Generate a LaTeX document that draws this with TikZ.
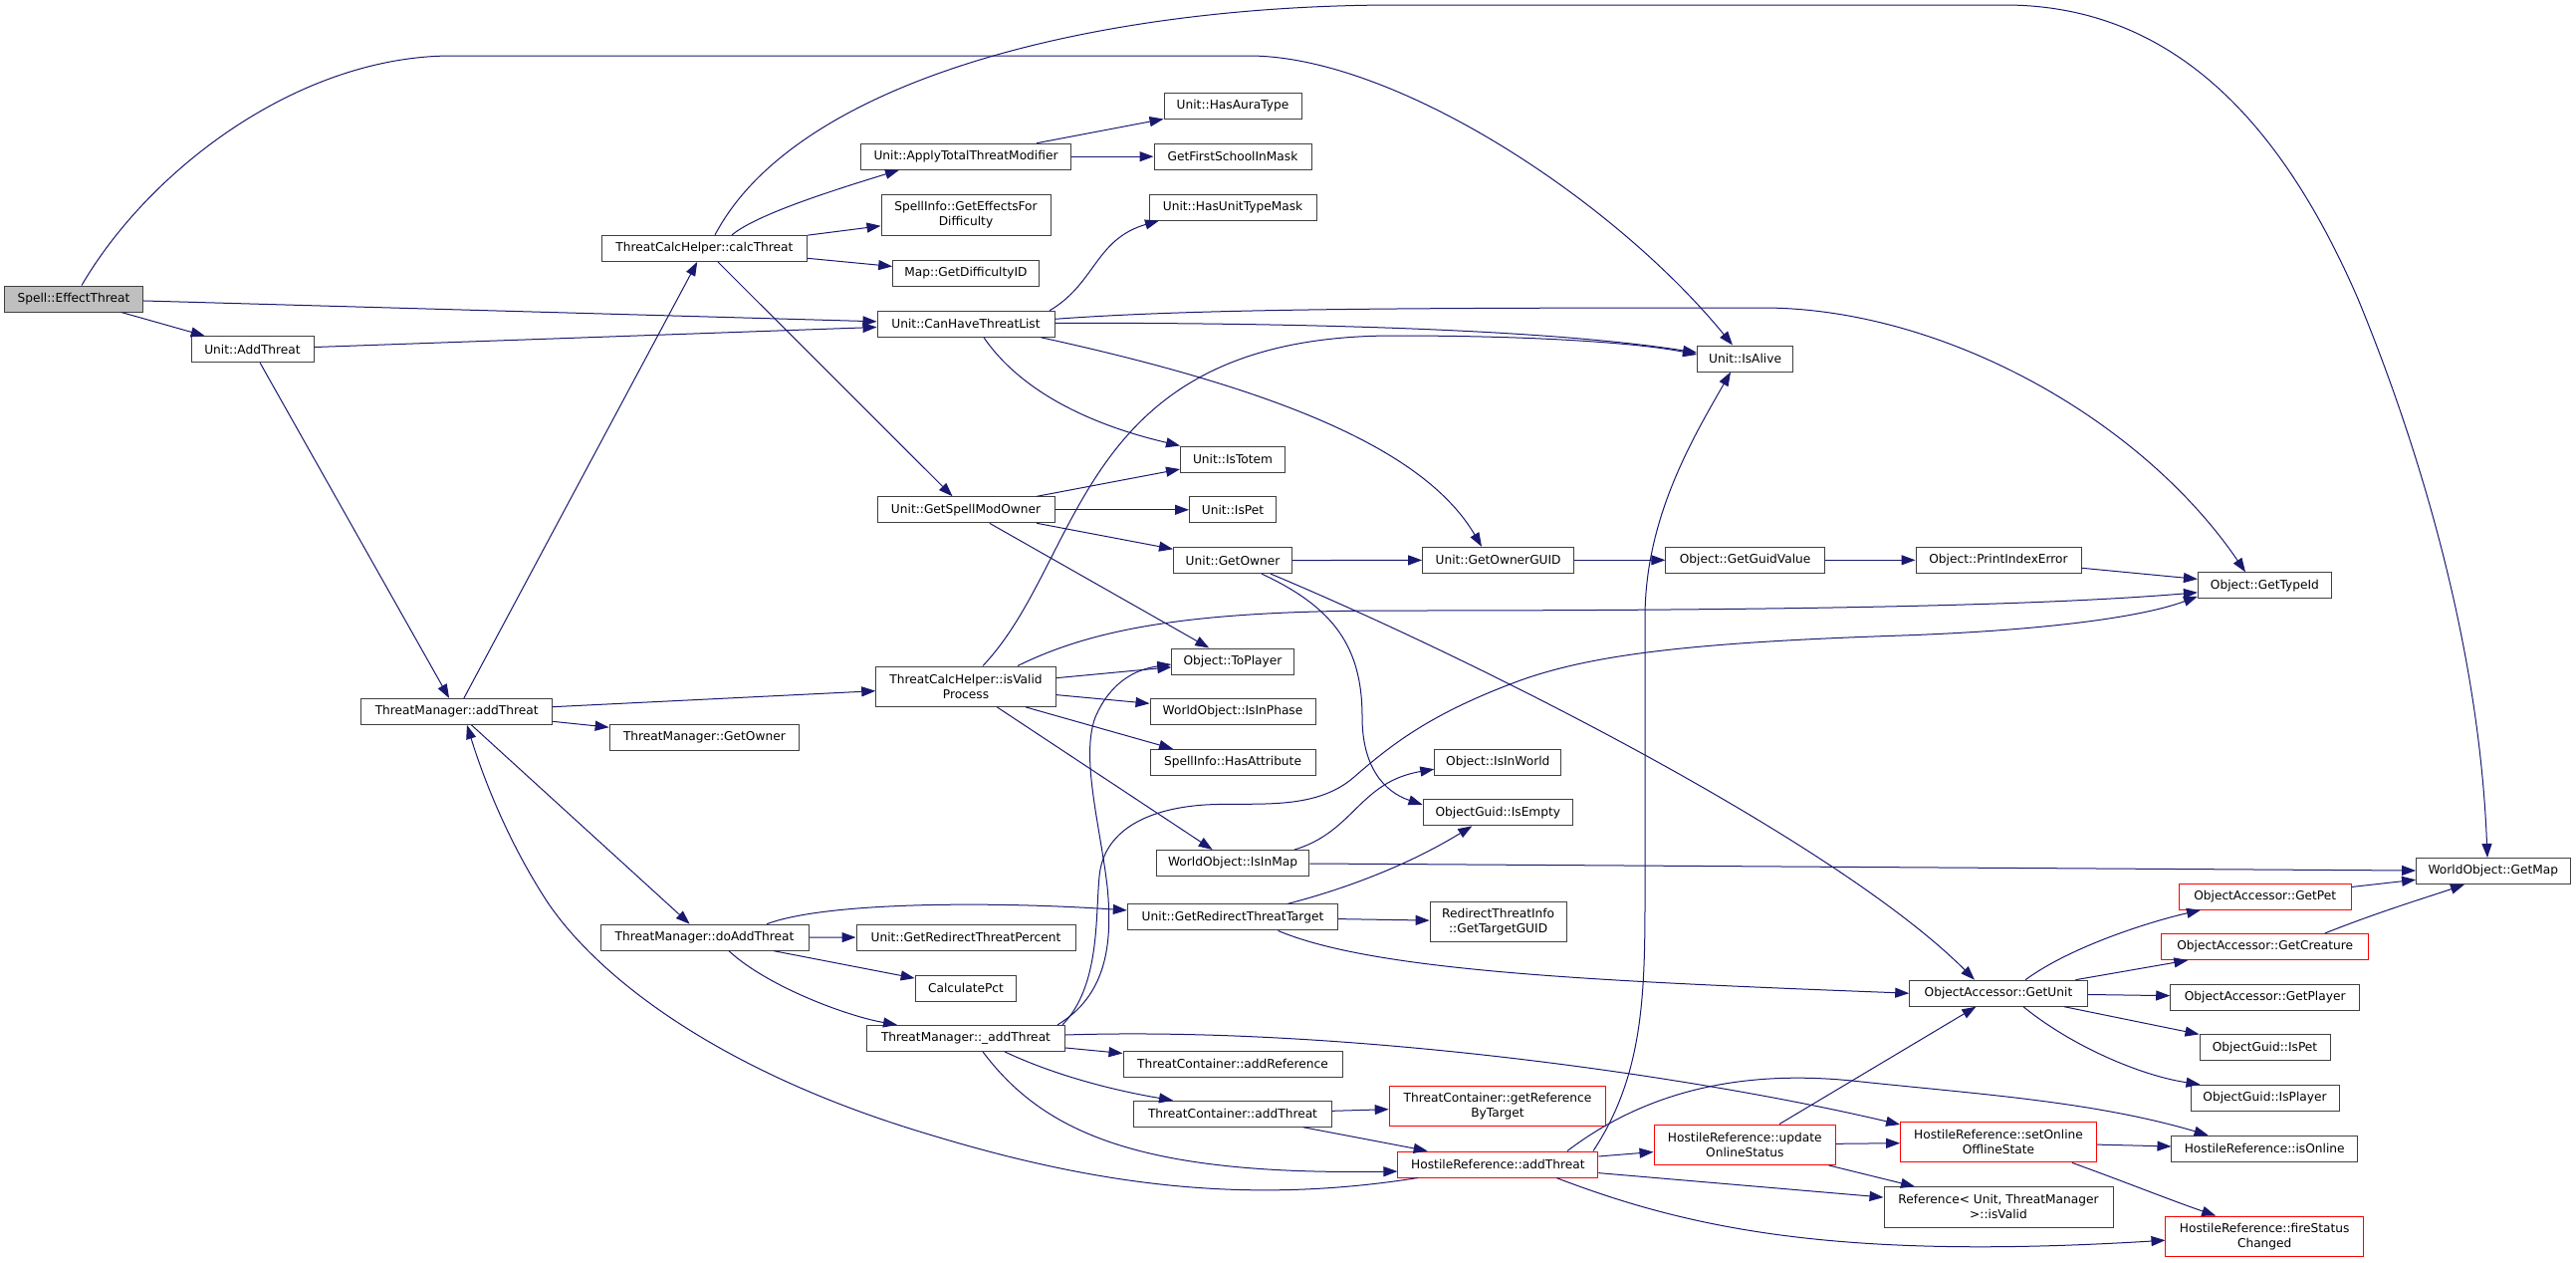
\documentclass[tikz,border=0pt]{standalone}
\usepackage{fontspec}
\setmainfont{DejaVu Sans}
\usetikzlibrary{arrows.meta}
\definecolor{edgeblue}{HTML}{191970}
\definecolor{nodeborder}{HTML}{404040}
\definecolor{rootfill}{HTML}{BFBFBF}
\begin{document}
\begin{tikzpicture}[x=1pt,y=-1pt,
  fn/.style={draw=nodeborder, line width=1pt, fill=white, inner sep=0pt, align=center,
             font=\fontsize{12.2}{15}\selectfont, minimum height=26pt},
  fnn/.style={fn, minimum height=40.4pt},
  trunc/.style={draw=red},
  e/.style={draw=edgeblue, line width=1pt, -{Triangle[length=14pt,width=10pt]}}]
\useasboundingbox (0,0) rectangle (2587,1267);
% nodes
\node[fn, fill=rootfill, minimum width=139pt] (effect) at (74,300) {Spell::EffectThreat};
\node[fn, minimum width=123pt] (uaddthreat) at (253.5,350.7) {Unit::AddThreat};
\node[fn, minimum width=206.6pt] (calcthreat) at (707.4,249.4) {ThreatCalcHelper::calcThreat};
\node[fn, minimum width=211pt] (applytotal) at (970,157.2) {Unit::ApplyTotalThreatModifier};
\node[fn, minimum width=138pt] (hasaura) at (1238,106.3) {Unit::HasAuraType};
\node[fn, minimum width=158pt] (firstschool) at (1238,157.2) {GetFirstSchoolInMask};
\node[fnn, minimum width=170pt] (effectsfor) at (970,215.9) {SpellInfo::GetEffectsFor\\Difficulty};
\node[fn, minimum width=168pt] (hasunittype) at (1238,208) {Unit::HasUnitTypeMask};
\node[fn, minimum width=146.6pt] (getdiff) at (970,274.5) {Map::GetDifficultyID};
\node[fn, minimum width=178pt] (canhave) at (970,325.3) {Unit::CanHaveThreatList};
\node[fn, minimum width=96pt] (isalive) at (1752.6,360) {Unit::IsAlive};
\node[fn, minimum width=105pt] (istotem) at (1238,461) {Unit::IsTotem};
\node[fn, minimum width=178pt] (spellmod) at (970,511.8) {Unit::GetSpellModOwner};
\node[fn, minimum width=87pt] (ispet) at (1238,511.8) {Unit::IsPet};
\node[fn, minimum width=119pt] (getowner) at (1238,562.6) {Unit::GetOwner};
\node[fn, minimum width=152pt] (ownerguid) at (1504.6,562.3) {Unit::GetOwnerGUID};
\node[fn, minimum width=159.4pt] (guidvalue) at (1752.6,562.3) {Object::GetGuidValue};
\node[fn, minimum width=166pt] (printindex) at (2007,562.3) {Object::PrintIndexError};
\node[fn, minimum width=134pt] (gettypeid) at (2274.4,587.8) {Object::GetTypeId};
\node[fn, minimum width=191.7pt] (tmaddthreat) at (458.7,714.4) {ThreatManager::addThreat};
\node[fn, minimum width=190.5pt] (tmgetowner) at (707.4,740) {ThreatManager::GetOwner};
\node[fnn, minimum width=180.5pt] (isvalid) at (970,689.2) {ThreatCalcHelper::isValid\\Process};
\node[fn, minimum width=122.4pt] (toplayer) at (1238,664) {Object::ToPlayer};
\node[fn, minimum width=166pt] (isinphase) at (1238,714) {WorldObject::IsInPhase};
\node[fn, minimum width=166pt] (hasattr) at (1238,765.3) {SpellInfo::HasAttribute};
\node[fn, minimum width=127pt] (isinworld) at (1504.3,765.2) {Object::IsInWorld};
\node[fn, minimum width=150.6pt] (isempty) at (1504.3,815.8) {ObjectGuid::IsEmpty};
\node[fn, minimum width=153.7pt] (isinmap) at (1238,866.5) {WorldObject::IsInMap};
\node[fn, minimum width=154.5pt] (getmap) at (2503.8,874.5) {WorldObject::GetMap};
\node[fn, minimum width=211.4pt] (redirtarget) at (1238,920.9) {Unit::GetRedirectThreatTarget};
\node[fnn, minimum width=137pt] (targetguid) at (1504.6,925.2) {RedirectThreatInfo\\::GetTargetGUID};
\node[fn, trunc, minimum width=173.4pt] (getpet) at (2274.7,900.2) {ObjectAccessor::GetPet};
\node[fn, trunc, minimum width=208.2pt] (getcreature) at (2274.7,950.5) {ObjectAccessor::GetCreature};
\node[fn, minimum width=178.6pt] (getunit) at (2007,997.2) {ObjectAccessor::GetUnit};
\node[fn, minimum width=190pt] (getplayer) at (2274.7,1001) {ObjectAccessor::GetPlayer};
\node[fn, minimum width=131pt] (guidispet) at (2274.5,1051.8) {ObjectGuid::IsPet};
\node[fn, minimum width=149pt] (guidisplayer) at (2274.5,1102.2) {ObjectGuid::IsPlayer};
\node[fn, minimum width=209pt] (doadd) at (707.5,941.2) {ThreatManager::doAddThreat};
\node[fn, minimum width=220pt] (redirpct) at (970,941) {Unit::GetRedirectThreatPercent};
\node[fn, minimum width=101.7pt] (calcpct) at (970,992) {CalculatePct};
\node[fn, minimum width=198.2pt] (privadd) at (970,1042.4) {ThreatManager::\_addThreat};
\node[fn, minimum width=220pt] (addref) at (1238,1068) {ThreatContainer::addReference};
\node[fn, minimum width=199pt] (tcaddthreat) at (1238,1118.2) {ThreatContainer::addThreat};
\node[fnn, trunc, minimum width=217.7pt] (getrefby) at (1504,1110.5) {ThreatContainer::getReference\\ByTarget};
\node[fn, trunc, minimum width=201pt] (hraddthreat) at (1504.4,1169) {HostileReference::addThreat};
\node[fnn, trunc, minimum width=182.6pt] (updateonline) at (1752.3,1149.2) {HostileReference::update\\OnlineStatus};
\node[fnn, trunc, minimum width=196.8pt] (setonline) at (2007,1146.7) {HostileReference::setOnline\\OfflineState};
\node[fn, minimum width=186.5pt] (isonline) at (2274.2,1153.2) {HostileReference::isOnline};
\node[fnn, minimum width=230pt] (refisvalid) at (2007,1211.9) {Reference< Unit, ThreatManager\\ >::isValid};
\node[fnn, trunc, minimum width=198.5pt] (firestatus) at (2274.2,1241.2) {HostileReference::fireStatus\\Changed};
% edges
\draw[e] ([xshift=8pt]effect.north) .. controls (150,170) and (300,56) .. (454,56) -- (1254,56) .. controls (1400,56) and (1620,200) .. ([xshift=-12.6pt]isalive.north);
\draw[e] (effect) -- (canhave);
\draw[e] (effect) -- (uaddthreat);
\draw[e] (uaddthreat) -- (canhave);
\draw[e] (uaddthreat) -- (tmaddthreat);
\draw[e] ([xshift=10.6pt]calcthreat.north) .. controls (800,80) and (1100,5) .. (1403,5) -- (2013,5) .. controls (2180,5) and (2290,120) .. (2368,300) .. controls (2430,450) and (2490,650) .. ([xshift=-5.8pt]getmap.north);
\draw[e] ([xshift=27.6pt]calcthreat.north) .. controls (760,215) and (840,190) .. ([xshift=-67pt]applytotal.south);
\draw[e] (calcthreat) -- (effectsfor);
\draw[e] (calcthreat) -- (getdiff);
\draw[e] (calcthreat) -- (spellmod);
\draw[e] (applytotal) -- (hasaura);
\draw[e] (applytotal) -- (firstschool);
\draw[e] ([xshift=84pt]canhave.north) .. controls (1100,285) and (1100,240) .. ([xshift=-74pt]hasunittype.south);
\draw[e] ([yshift=5pt]canhave.east) .. controls (1200,310) and (1400,309) .. (1770,309) .. controls (1950,309) and (2150,420) .. ([xshift=-19.4pt]gettypeid.north);
\draw[e] ([yshift=1pt]canhave.east) .. controls (1300,324) and (1550,330) .. ([yshift=6pt]isalive.west);
\draw[e] ([xshift=18pt]canhave.south) .. controls (1030,400) and (1110,430) .. (istotem.north west);
\draw[e] ([xshift=75.5pt]canhave.south) .. controls (1280,390) and (1430,450) .. ([xshift=-16.6pt]ownerguid.north);
\draw[e] (spellmod) -- (istotem);
\draw[e] (spellmod) -- (ispet);
\draw[e] (spellmod) -- (getowner);
\draw[e] (spellmod) -- (toplayer);
\draw[e] (getowner) -- (ownerguid);
\draw[e] ([xshift=29pt]getowner.south) .. controls (1340,610) and (1368,650) .. (1368,720) .. controls (1368,770) and (1390,795) .. ([yshift=8pt]isempty.west);
\draw[e] ([xshift=38pt]getowner.south) .. controls (1500,670) and (1850,850) .. ([xshift=-24pt]getunit.north);
\draw[e] (ownerguid) -- (guidvalue);
\draw[e] (guidvalue) -- (printindex);
\draw[e] (printindex) -- (gettypeid);
\draw[e] (tmaddthreat) -- (calcthreat);
\draw[e] (tmaddthreat) -- (isvalid);
\draw[e] (tmaddthreat) -- (tmgetowner);
\draw[e] (tmaddthreat) -- (doadd);
\draw[e] ([xshift=17pt]isvalid.north) .. controls (1090,560) and (1080,337) .. (1400,337) .. controls (1550,337) and (1650,345) .. ([yshift=4pt]isalive.west);
\draw[e] ([xshift=52pt]isvalid.north) .. controls (1100,630) and (1200,613) .. (1400,613) .. controls (1800,613) and (2050,608) .. ([yshift=-7pt]gettypeid.west);
\draw[e] (isvalid) -- (toplayer);
\draw[e] (isvalid) -- (isinphase);
\draw[e] ([xshift=60pt]isvalid.south) -- ([xshift=-60pt]hasattr.north);
\draw[e] (isvalid) -- (isinmap);
\draw[e] ([xshift=62pt]isinmap.north) .. controls (1360,835) and (1365,785) .. ([yshift=-7pt]isinworld.west);
\draw[e] (isinmap) -- (getmap);
\draw[e] ([xshift=62.5pt]doadd.north) .. controls (830,905) and (1000,905) .. ([yshift=7pt]redirtarget.west);
\draw[e] (doadd) -- (redirpct);
\draw[e] (doadd) -- (calcpct);
\draw[e] ([xshift=24.5pt]doadd.south) .. controls (770,990) and (850,1020) .. ([xshift=-69pt]privadd.north);
\draw[e] ([xshift=55pt]redirtarget.north) .. controls (1360,890) and (1420,865) .. ([xshift=-26pt]isempty.south);
\draw[e] (redirtarget) -- (targetguid);
\draw[e] ([xshift=45.5pt]redirtarget.south) .. controls (1380,975) and (1600,985) .. (getunit.west);
\draw[e] ([xshift=92pt]privadd.north) .. controls (1110,1000) and (1118,950) .. (1112,890) .. controls (1105,830) and (1085,760) .. (1100,720) .. controls (1115,685) and (1140,672) .. ([yshift=-3pt]toplayer.west);
\draw[e] ([xshift=97pt]privadd.north) .. controls (1105,990) and (1100,920) .. (1104,880) .. controls (1108,835) and (1150,812) .. (1210,808) .. controls (1260,805) and (1320,815) .. (1360,780) .. controls (1400,745) and (1440,715) .. (1527,683) .. controls (1600,657) and (1700,645) .. (1910,638) .. controls (2050,633) and (2150,620) .. ([yshift=-11pt]gettypeid.west);
\draw[e] (privadd) -- (addref);
\draw[e] ([xshift=39pt]privadd.south) .. controls (1060,1080) and (1120,1095) .. ([xshift=-60pt]tcaddthreat.north);
\draw[e] ([xshift=17pt]privadd.south) .. controls (1050,1140) and (1150,1180) .. ([yshift=-7pt]hraddthreat.west);
\draw[e] ([yshift=3.4pt]privadd.east) .. controls (1350,1030) and (1700,1080) .. ([yshift=-3pt]setonline.north west);
\draw[e] (tcaddthreat) -- (getrefby);
\draw[e] (tcaddthreat) -- (hraddthreat);
\draw[e] ([xshift=-80.4pt]hraddthreat.south) .. controls (1250,1210) and (1100,1190) .. (930,1138) .. controls (720,1075) and (600,980) .. (550,906) .. controls (510,845) and (485,780) .. ([xshift=10.3pt]tmaddthreat.south);
\draw[e] ([xshift=95.6pt]hraddthreat.north) .. controls (1650,1080) and (1652,1000) .. (1652,900) -- (1652,620) .. controls (1652,520) and (1700,440) .. ([xshift=-14.6pt]isalive.south);
\draw[e] (hraddthreat) -- (updateonline);
\draw[e] ([xshift=69.6pt]hraddthreat.north) .. controls (1660,1090) and (1760,1075) .. (1860,1085) .. controls (1980,1098) and (2100,1105) .. ([xshift=-56.6pt]isonline.north);
\draw[e] (hraddthreat) -- (refisvalid);
\draw[e] ([xshift=58.6pt]hraddthreat.south) .. controls (1700,1235) and (1850,1265) .. ([yshift=-4pt]firestatus.west);
\draw[e] (updateonline) -- (getunit);
\draw[e] (updateonline) -- (setonline);
\draw[e] (updateonline) -- (refisvalid);
\draw[e] (setonline) -- (isonline);
\draw[e] ([xshift=74pt]setonline.south) .. controls (2130,1185) and (2180,1205) .. ([xshift=-49pt]firestatus.north);
\draw[e] ([xshift=27pt]getunit.north) .. controls (2080,950) and (2160,925) .. ([xshift=-64.7pt]getpet.south);
\draw[e] (getunit) -- (getcreature);
\draw[e] (getunit) -- (getplayer);
\draw[e] (getunit) -- (guidispet);
\draw[e] ([xshift=25pt]getunit.south) .. controls (2080,1050) and (2150,1080) .. ([xshift=10pt]guidisplayer.north west);
\draw[e] (getpet) -- (getmap);
\draw[e] ([xshift=60pt]getcreature.north) .. controls (2390,915) and (2440,900) .. ([xshift=-28.8pt]getmap.south);
\end{tikzpicture}
\end{document}
